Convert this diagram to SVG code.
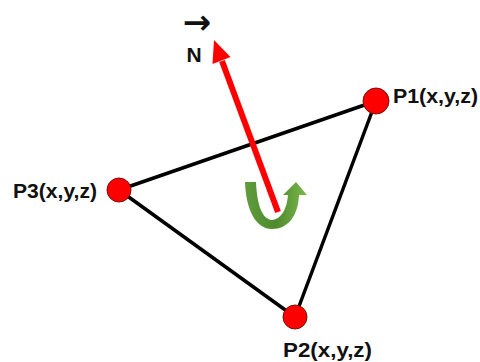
<svg xmlns="http://www.w3.org/2000/svg" width="480" height="362" viewBox="0 0 480 362">
<style>
.lbl{font-family:"Liberation Sans",Arial,sans-serif;font-weight:bold;font-size:21px;fill:#111}
.edge{stroke:#000;stroke-width:3.5;fill:none}
.pt{fill:#ff0000;stroke:#7a1010;stroke-width:1}
</style>
<defs>
<linearGradient id="g" x1="0" y1="0" x2="1" y2="0">
<stop offset="0" stop-color="#5f9c3c"/>
<stop offset="0.5" stop-color="#4f8a2e"/>
<stop offset="1" stop-color="#7cb84c"/>
</linearGradient>
</defs>
<rect width="480" height="362" fill="#fff"/>
<g id="connectors">
<line class="edge" x1="119" y1="190" x2="376" y2="101"/>
<line class="edge" x1="376" y1="101" x2="295" y2="317"/>
<line class="edge" x1="295" y1="317" x2="119" y2="190"/>
</g>
<g id="rotation">
<path d="M245,182 L256,182 C257,205 262,219 272,220 C282,219 287,208 288,195 L283,195 L296,182 L307,195 L299,195 C298,216 288,229 272,229 C256,229 246,210 245,182 Z" fill="url(#g)"/>
</g>
<g id="normal">
<line x1="278" y1="212" x2="222" y2="61" stroke="#ff0000" stroke-width="6"/>
<polygon points="214,40 230.5,57 212.5,64" fill="#ff0000"/>
<text x="197" y="34" text-anchor="middle" font-family="DejaVu Sans, sans-serif" font-weight="bold" font-size="34" fill="#111">→</text>
<text class="lbl" x="194" y="62" text-anchor="middle" font-size="20">N</text>
</g>
<g id="P1">
<circle class="pt" cx="376" cy="101" r="13"/>
<text class="lbl" x="393" y="103" textLength="85" lengthAdjust="spacingAndGlyphs">P1(x,y,z)</text>
</g>
<g id="P3">
<circle class="pt" cx="119" cy="190" r="12"/>
<text class="lbl" x="13" y="198" textLength="84" lengthAdjust="spacingAndGlyphs">P3(x,y,z)</text>
</g>
<g id="P2">
<circle class="pt" cx="295" cy="317" r="12"/>
<text class="lbl" x="283" y="357" textLength="89" lengthAdjust="spacingAndGlyphs">P2(x,y,z)</text>
</g>
</svg>
